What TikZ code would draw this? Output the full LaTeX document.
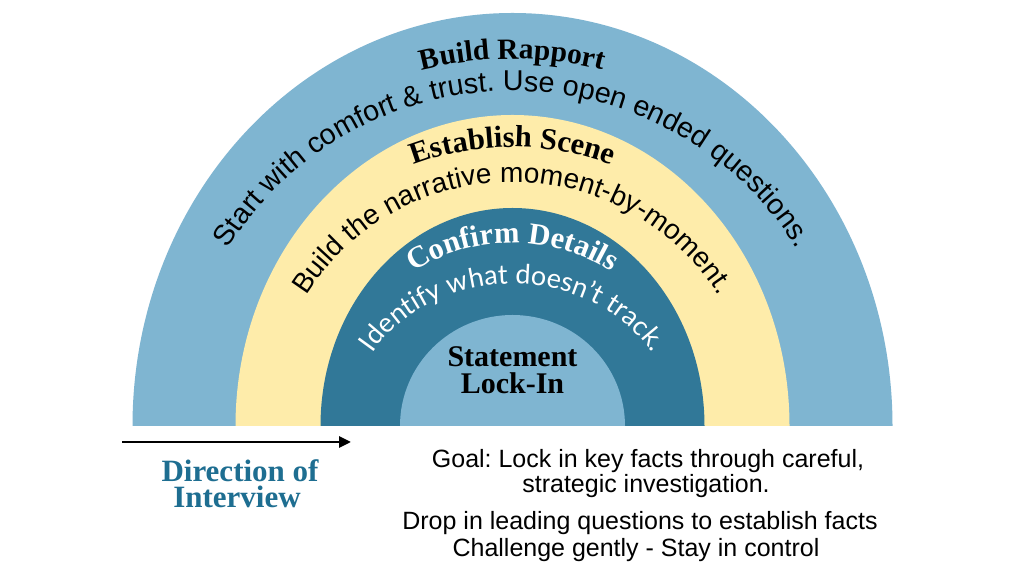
\documentclass[tikz,border=0pt]{standalone}
\usepackage{fontspec}
\setmainfont{Liberation Sans}
\newfontfamily\titlefont{Liberation Serif}
\newfontfamily\arcfont{Liberation Sans}
\newfontfamily\latofont{Lato}
\usetikzlibrary{decorations.text,arrows.meta}
\definecolor{ringlight}{HTML}{7FB5D1}
\definecolor{ringyellow}{HTML}{FEECAA}
\definecolor{ringdark}{HTML}{317898}
\definecolor{dirblue}{HTML}{1E6E91}
\frenchspacing
\begin{document}
\begin{tikzpicture}[x=1pt,y=1pt,
  bodytext/.style={anchor=base, inner sep=0pt, font=\arcfont\fontsize{25}{25}\selectfont\frenchspacing, text=black},
  titletext/.style={anchor=base, inner sep=0pt, font=\titlefont\bfseries\fontsize{30}{30}\selectfont, text=black},
  dirtext/.style={anchor=base, inner sep=0pt, font=\titlefont\bfseries\fontsize{31}{31}\selectfont, text=dirblue},
  dirarrow/.style={line width=2.8pt, -{Triangle[length=12pt,width=11pt]}}]
\useasboundingbox (0,0) rectangle (1025,577);
\fill[white] (0,0) rectangle (1025,577);
\begin{scope}[shift={(512.5,151)}]
  % rings
  \fill[ringlight] (-380,0) arc[start angle=180,end angle=0,x radius=380,y radius=413] -- cycle;
  \fill[ringyellow] (-277,0) arc[start angle=180,end angle=0,x radius=277,y radius=311] -- cycle;
  \fill[ringdark] (-192,0) arc[start angle=180,end angle=0,x radius=192,y radius=218] -- cycle;
  \fill[ringlight] (-112.5,0) arc[start angle=180,end angle=0,x radius=112.5,y radius=111] -- cycle;
  % curved texts
  \path[decorate,decoration={text along path,text align=center,
    text={|\titlefont\bfseries\fontsize{29.5}{29.5}\selectfont|Build Rapport}}]
    (-367,0) arc[start angle=180,end angle=0,radius=367];
  \path[decorate,decoration={text along path,text align=center,
    text={|\arcfont\fontsize{28.7}{28.7}\selectfont|Start with comfort {\&} trust. Use open ended questions.}}]
    (-335,0) arc[start angle=180,end angle=0,radius=335];
  \path[decorate,decoration={text along path,text align=center,
    text={|\titlefont\bfseries\fontsize{30.5}{30.5}\selectfont|Establish Scene}}]
    (-279,0) arc[start angle=180,end angle=0,radius=279];
  \path[decorate,decoration={text along path,text align=center,
    text={|\arcfont\fontsize{28}{28}\selectfont|Build the narrative moment-by-moment.}}]
    (-244,0) arc[start angle=180,end angle=0,radius=244];
  \path[decorate,decoration={text along path,text align=center,
    text={|\titlefont\bfseries\fontsize{30.5}{30.5}\selectfont\color{white}|Confirm Details}}]
    (-183,0) arc[start angle=180,end angle=0,radius=183];
  \path[decorate,decoration={text along path,text align=center,
    text={|\latofont\fontsize{27}{27}\selectfont\color{white}|Identify what doesn{’}t track.}}]
    (-163,0) arc[start angle=180,end angle=0,x radius=163,y radius=142];
\end{scope}
% center title
\node[titletext] (lockA) at (512.5,210) {Statement};
\node[titletext] (lockB) at (512.5,183) {Lock-In};
% direction arrow
\coordinate (arrS) at (122,135);
\coordinate (arrE) at (351,135);
\draw[dirarrow] (arrS) -- (arrE);
\node[dirtext] (dirA) at (240,95) {Direction of};
\node[dirtext] (dirB) at (237,69) {Interview};
% bottom text
\node[bodytext] (goalA) at (648,109) {Goal: Lock in key facts through careful,};
\node[bodytext] (goalB) at (646,84) {strategic investigation.};
\node[bodytext] (dropA) at (640,47) {Drop in leading questions to establish facts};
\node[bodytext] (dropB) at (636,20) {Challenge gently - Stay in control};
\end{tikzpicture}
\end{document}
